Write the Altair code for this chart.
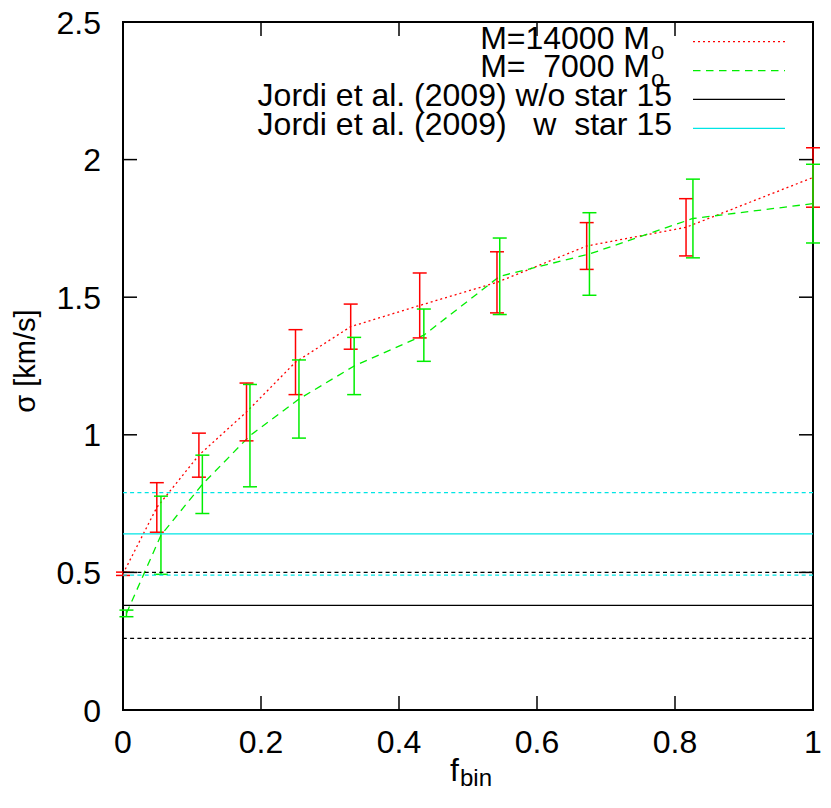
import altair as alt
import pandas as pd

# ---- data ----
red_f = [0.0, 0.049, 0.11, 0.179, 0.25, 0.33, 0.43, 0.542, 0.672, 0.816, 1.0]
red_sigma = [0.495, 0.736, 0.926, 1.083, 1.264, 1.393, 1.47, 1.554, 1.686, 1.754, 1.935]
red_err = [0.006, 0.09, 0.08, 0.105, 0.118, 0.082, 0.118, 0.111, 0.085, 0.104, 0.108]

green_f = [0.005, 0.055, 0.115, 0.184, 0.255, 0.335, 0.436, 0.546, 0.676, 0.826, 1.0]
green_sigma = [0.351, 0.635, 0.82, 0.997, 1.13, 1.25, 1.362, 1.576, 1.657, 1.786, 1.84]
green_err = [0.012, 0.142, 0.106, 0.186, 0.142, 0.104, 0.095, 0.139, 0.15, 0.143, 0.143]

jordi_names = ["w/o star 15", "w star 15"]
jordi_sigma = [0.38, 0.64]
jordi_err = [0.12, 0.15]

x_ticks = [0, 0.2, 0.4, 0.6, 0.8, 1]
x_tick_labels = ["0", "0.2", "0.4", "0.6", "0.8", "1"]
y_ticks = [0, 0.5, 1, 1.5, 2, 2.5]
y_tick_labels = ["0", "0.5", "1", "1.5", "2", "2.5"]

legend_text = ["M=14000 M", "M=\u00a0\u00a07000 M",
               "Jordi et al. (2009) w/o star 15",
               "Jordi et al. (2009) \u00a0\u00a0w\u00a0\u00a0star 15"]

# ---- styling ----
FONT = "Liberation Sans"
FS = 32
SUB = 24
W, H = 690, 688
TOP = 22    # page y of plot top
LEFT = 123  # page x of plot left
SVG_W = 815
SVG_H = 784
RED, GREEN, BLACK, CYAN = "#ff0000", "#00ee00", "#000000", "#00e5e5"

xs = alt.Scale(domain=[0, 1], nice=False, zero=False)
ys = alt.Scale(domain=[0, 2.5], nice=False, zero=False)
NX = dict(scale=xs, axis=None)
NY = dict(scale=ys, axis=None)


def series_df(f, s, e):
    return pd.DataFrame({"f": f, "sigma": s,
                         "lo": [a - b for a, b in zip(s, e)],
                         "hi": [a + b for a, b in zip(s, e)]})


red = series_df(red_f, red_sigma, red_err)
green = series_df(green_f, green_sigma, green_err)

layers = []

layers.append(alt.Chart(red).mark_line(color=RED, strokeWidth=1.3, strokeDash=[2, 3]).encode(
    x=alt.X("f:Q", **NX), y=alt.Y("sigma:Q", **NY)))
layers.append(alt.Chart(green).mark_line(color=GREEN, strokeWidth=1.3, strokeDash=[7.5, 5.5]).encode(
    x=alt.X("f:Q", **NX), y=alt.Y("sigma:Q", **NY)))

for df, col in [(red, RED), (green, GREEN)]:
    layers.append(alt.Chart(df).mark_rule(color=col, strokeWidth=1.5).encode(
        x=alt.X("f:Q", **NX), y=alt.Y("lo:Q", **NY), y2="hi:Q"))
    for end in ["lo", "hi"]:
        layers.append(alt.Chart(df).mark_tick(
            color=col, orient="horizontal", size=14, thickness=1.5, opacity=1).encode(
            x=alt.X("f:Q", **NX), y=alt.Y(f"{end}:Q", **NY)))

# Jordi et al. reference levels
for s, e, col in [(jordi_sigma[0], jordi_err[0], BLACK), (jordi_sigma[1], jordi_err[1], CYAN)]:
    layers.append(alt.Chart(pd.DataFrame({"v": [s]})).mark_rule(
        color=col, strokeWidth=1.2).encode(y=alt.Y("v:Q", **NY)))
    layers.append(alt.Chart(pd.DataFrame({"v": [s - e, s + e]})).mark_rule(
        color=col, strokeWidth=1.2, strokeDash=[4, 3.3]).encode(y=alt.Y("v:Q", **NY)))

# inward ticks on all four sides
xt = pd.DataFrame({"t": x_ticks, "lab": x_tick_labels})
yt = pd.DataFrame({"t": y_ticks, "lab": y_tick_labels})
TL = 14
layers.append(alt.Chart(xt).mark_rule(color="black", strokeWidth=1.5).encode(
    x=alt.X("t:Q", **NX), y=alt.value(H), y2=alt.value(H - TL)))
layers.append(alt.Chart(xt).mark_rule(color="black", strokeWidth=1.5).encode(
    x=alt.X("t:Q", **NX), y=alt.value(0), y2=alt.value(TL)))
layers.append(alt.Chart(yt).mark_rule(color="black", strokeWidth=1.5).encode(
    y=alt.Y("t:Q", **NY), x=alt.value(0), x2=alt.value(TL)))
layers.append(alt.Chart(yt).mark_rule(color="black", strokeWidth=1.5).encode(
    y=alt.Y("t:Q", **NY), x=alt.value(W), x2=alt.value(W - TL)))

# tick labels
layers.append(alt.Chart(xt).mark_text(
    font=FONT, fontSize=FS, align="center", baseline="alphabetic", color="black").encode(
    x=alt.X("t:Q", **NX), y=alt.value(753 - TOP), text="lab:N"))
layers.append(alt.Chart(yt).mark_text(
    font=FONT, fontSize=FS, align="right", baseline="alphabetic", dy=11.5, color="black").encode(
    y=alt.Y("t:Q", **NY), x=alt.value(-22), text="lab:N"))

one = pd.DataFrame({"a": [0]})


def txt(s, px, py, size=FS, align="left", angle=0):
    return alt.Chart(one).mark_text(
        text=s, font=FONT, fontSize=size, align=align, baseline="alphabetic",
        angle=angle, color="black").encode(x=alt.value(px - LEFT), y=alt.value(py - TOP))


# legend
row_line_y = [41.7, 70.7, 99.3, 128.3]
row_base = [48.5, 77.0, 106.3, 135.3]
text_right = [650, 650, 672, 672]
styles = [(RED, [2, 3]), (GREEN, [7.5, 5.5]), (BLACK, None), (CYAN, None)]
for i in range(4):
    layers.append(txt(legend_text[i], text_right[i], row_base[i], align="right"))
    if i < 2:
        layers.append(txt("o", 651, row_base[i] + 10, size=SUB))
    col, dash = styles[i]
    kw = dict(color=col, strokeWidth=1.3)
    if dash:
        kw["strokeDash"] = dash
    layers.append(alt.Chart(one).mark_rule(**kw).encode(
        x=alt.value(693 - LEFT), x2=alt.value(785 - LEFT), y=alt.value(row_line_y[i] - TOP)))

# axis titles
layers.append(txt("f", 450, 781))
layers.append(txt("bin", 460, 786, size=SUB))
layers.append(txt("\u03c3 [km/s]", 35, 361, size=29, align="center", angle=270))

chart = alt.layer(*layers).properties(
    width=W, height=H,
    autosize=alt.AutoSizeParams(type="none"),
    padding={"left": LEFT - 8, "top": TOP - 8, "right": SVG_W - (LEFT - 8) - W,
             "bottom": SVG_H - (TOP - 8) - H},
).configure_view(stroke="black", strokeWidth=2)

chart.save("out.html", embed_options={"renderer": "svg", "actions": False})
